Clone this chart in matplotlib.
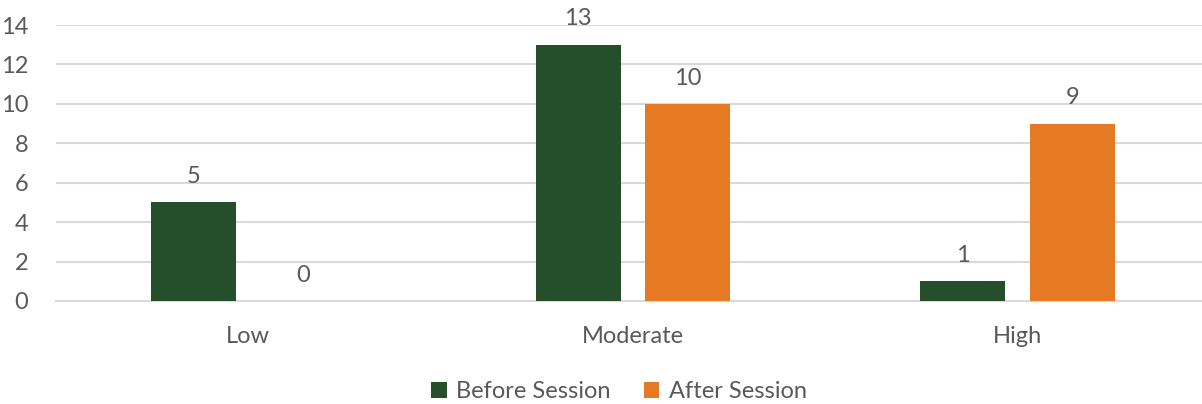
"""
Grouped bar chart: before / after session counts
"""

import numpy as np
import matplotlib.pyplot as plt

# ---------------------------------------------------------------------------- #
# Data
# ---------------------------------------------------------------------------- #

categories = ['Low', 'Moderate', 'High']
series_names = ['Before Session', 'After Session']
before = [5, 13, 1]
after = [0, 10, 9]
yticks = [0, 2, 4, 6, 8, 10, 12, 14]

colours = ['#254F2A', '#E67A24']
text_colour = '#595959'
grid_colour = '#D9D9D9'
font_size = 17

plt.rcParams['font.family'] = ['Lato', 'DejaVu Sans']

# ---------------------------------------------------------------------------- #
# Plot
# ---------------------------------------------------------------------------- #

fig = plt.figure(figsize=(12.02, 4.04), dpi=100)
ax = fig.add_axes([0.0466, 0.255, 1 - 0.0466, 0.683])

x = np.arange(len(categories))
width = 0.221
offset = 0.1425

for values, name, colour, sign in zip([before, after], series_names, colours, [-1, 1]):
    bars = ax.bar(x + sign * offset, values, width, color=colour, label=name, zorder=3)
    ax.bar_label(bars, padding=11, fontsize=font_size, color=text_colour)

ax.set_xlim(-0.5, 2.48)
ax.set_ylim(0, 14)
ax.set_yticks(yticks)
ax.set_xticks(x)
ax.set_xticklabels(categories)
ax.grid(axis='y', color=grid_colour, linewidth=1.5, zorder=0)

for side in ['top', 'right', 'left']:
    ax.spines[side].set_visible(False)
ax.spines['bottom'].set_color(grid_colour)
ax.spines['bottom'].set_linewidth(1.5)

ax.tick_params(axis='both', length=0, labelsize=font_size, labelcolor=text_colour)
ax.tick_params(axis='x', pad=18)
ax.tick_params(axis='y', pad=20)

leg = fig.legend(loc='center', bbox_to_anchor=(0.515, 0.03), ncol=2, frameon=False,
                 fontsize=font_size, handlelength=0.65, handleheight=0.65, handletextpad=0.4,
                 columnspacing=1.4)
for t in leg.get_texts():
    t.set_color(text_colour)

fig.savefig('out.png', dpi=100)
plt.close()
